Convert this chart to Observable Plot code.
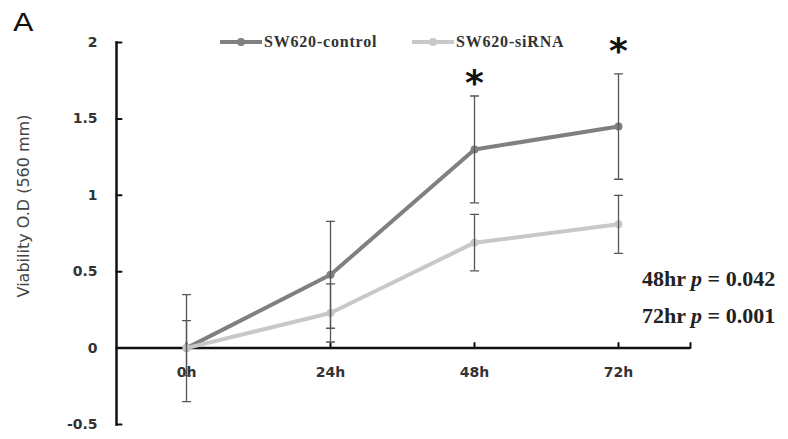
<!DOCTYPE html>
<html>
<head>
<meta charset="utf-8">
<script src="https://cdn.jsdelivr.net/npm/d3@7"></script>
<script src="https://cdn.jsdelivr.net/npm/@observablehq/plot@0.6"></script>
<style>
  body { margin: 0; background: #fff; }
  #wrap { position: relative; width: 788px; height: 439px; overflow: hidden; }
  .panel { position: absolute; left: 13px; top: 9px; font: 24px "DejaVu Sans", sans-serif; color: #111;
           transform: scaleX(1.25); transform-origin: left top; }
  .ylabel { position: absolute; left: 23px; top: 206px; font: 16px "DejaVu Sans", sans-serif; color: #444;
            white-space: nowrap; transform: translate(-50%, -50%) rotate(-90deg); }
  .legend { position: absolute; top: 33px; display: flex; align-items: center;
            font: bold 16px "Liberation Serif", serif; letter-spacing: 0.8px; color: #333; }
  .legend svg { margin-right: 2px; }
  .pval { position: absolute; left: 642px; font: bold 22px "Liberation Serif", serif; color: #222; white-space: nowrap; }
  .pval i { font-style: italic; }
</style>
</head>
<body>
<div id="wrap">
  <div class="panel">A</div>
  <div class="ylabel">Viability O.D (560 mm)</div>
</div>
<script>
// ---- data ----
const hours = ["0h", "24h", "48h", "72h"];
const seriesNames = ["SW620-control", "SW620-siRNA"];
const seriesColors = ["#808080", "#c8c8c8"];
const control = [0, 0.48, 1.30, 1.45];
const controlErr = [0.35, 0.35, 0.35, 0.345];
const sirna = [0, 0.23, 0.69, 0.81];
const sirnaErr = [0.18, 0.19, 0.185, 0.19];
const yTicks = [-0.5, 0, 0.5, 1, 1.5, 2];
const starHours = ["48h", "72h"];
const starY = [1.76, 1.97];
const pLines = [["48hr", "0.042"], ["72hr", "0.001"]];

const rows = hours.flatMap((h, i) => [
  {hour: h, series: seriesNames[0], v: control[i], e: controlErr[i]},
  {hour: h, series: seriesNames[1], v: sirna[i], e: sirnaErr[i]}
]);
const caps = rows.flatMap(d => [{hour: d.hour, y: d.v - d.e}, {hour: d.hour, y: d.v + d.e}]);
const stars = starHours.map((h, i) => ({hour: h, y: starY[i]}));

const tickLine = {draw(ctx, l) { ctx.moveTo(0, 0); ctx.lineTo(0, -l); }};
const axisColor = "#111";
const labelFont = {fontFamily: "DejaVu Sans, sans-serif", fontWeight: "bold", fontSize: 14, fill: "#333"};

const chart = Plot.plot({
  width: 788,
  height: 439,
  marginLeft: 116,
  marginRight: 98,
  marginTop: 42,
  marginBottom: 15,
  x: {type: "point", domain: hours, range: [185, 618], padding: 0, axis: null},
  y: {domain: [-0.5, 2], axis: null},
  color: {domain: seriesNames, range: seriesColors},
  marks: [
    // axes
    Plot.ruleY([0], {stroke: axisColor, strokeWidth: 2.5}),
    Plot.frame({anchor: "left", stroke: axisColor, strokeWidth: 2.5}),
    Plot.vector(yTicks, {y: d => d, frameAnchor: "left", rotate: 90, length: 5, anchor: "start",
      shape: tickLine, stroke: axisColor, strokeWidth: 2}),
    Plot.text(yTicks, {y: d => d, frameAnchor: "left", dx: -19, textAnchor: "end",
      text: d => String(d), ...labelFont}),
    Plot.vector(hours, {x: d => d, y: d => 0, rotate: 0, length: 5, anchor: "start",
      shape: tickLine, stroke: axisColor, strokeWidth: 2}),
    Plot.vector([0], {y: d => d, frameAnchor: "right", rotate: 0, length: 5, anchor: "start",
      shape: tickLine, stroke: axisColor, strokeWidth: 2}),
    Plot.text(hours, {x: d => d, y: d => 0, dy: 24, text: d => d, ...labelFont}),
    // series
    Plot.line(rows, {x: "hour", y: "v", z: "series", stroke: "series", strokeWidth: 4}),
    Plot.dot(rows, {x: "hour", y: "v", fill: "series", r: 4}),
    Plot.ruleX(rows, {x: "hour", y1: d => d.v - d.e, y2: d => d.v + d.e, stroke: "#555", strokeWidth: 1.3}),
    Plot.vector(caps, {x: "hour", y: "y", rotate: 90, length: 8, anchor: "middle",
      shape: tickLine, stroke: "#555", strokeWidth: 1.3}),
    Plot.text(stars, {x: "hour", y: "y", text: d => "*", fontFamily: "DejaVu Sans, sans-serif",
      fontWeight: "bold", fontSize: 36, fill: "#111", lineAnchor: "middle", dy: 4})
  ]
});
const wrap = document.getElementById("wrap");
wrap.appendChild(chart);

// legend overlay
const legendX = [220, 412];
seriesNames.forEach((name, i) => {
  const div = document.createElement("div");
  div.className = "legend";
  div.style.left = legendX[i] + "px";
  div.innerHTML = `<svg width="42" height="10"><line x1="0" y1="5" x2="42" y2="5" stroke="${seriesColors[i]}" stroke-width="4"/><circle cx="21" cy="5" r="4" fill="${seriesColors[i]}"/></svg>${name}`;
  wrap.appendChild(div);
});

// p-value annotations
const pTop = [266, 303];
pLines.forEach(([hr, p], i) => {
  const div = document.createElement("div");
  div.className = "pval";
  div.style.top = pTop[i] + "px";
  div.innerHTML = `${hr} <i>p</i> = ${p}`;
  wrap.appendChild(div);
});
</script>
</body>
</html>
